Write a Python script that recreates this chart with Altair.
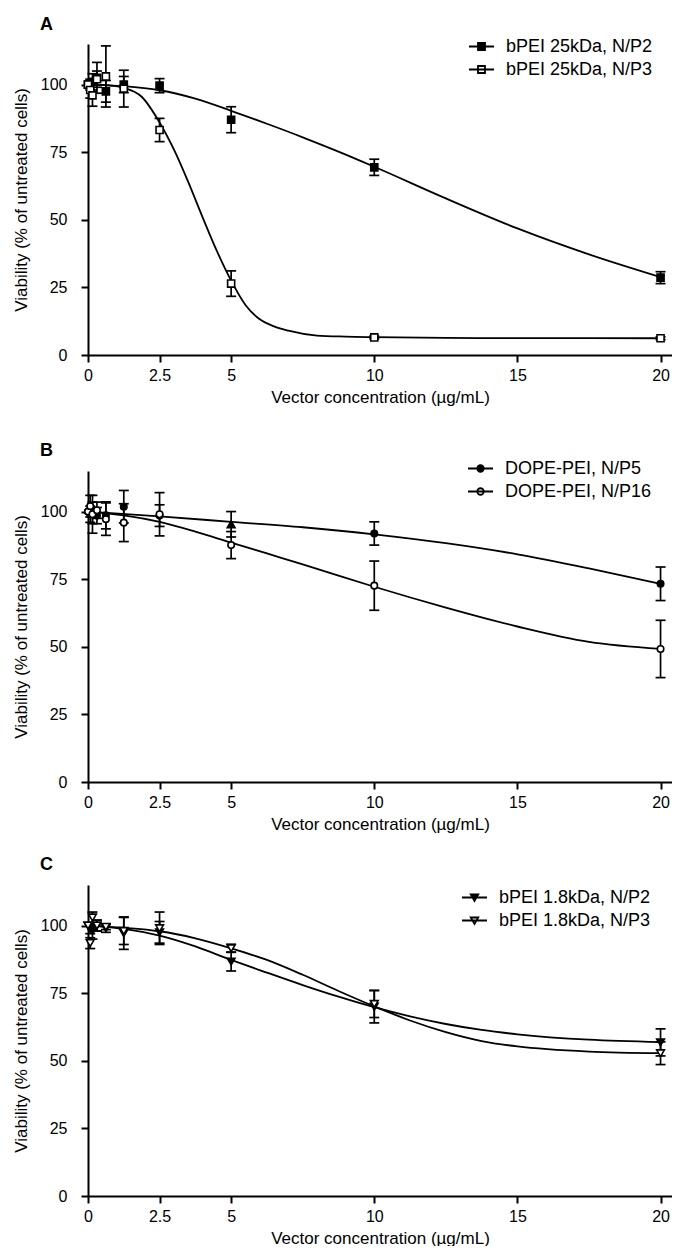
import altair as alt
import pandas as pd

FONT = "Liberation Sans"

# ---------------- data ----------------
conc = [0, 0.078, 0.156, 0.3125, 0.625, 1.25, 2.5, 5, 10, 20]

# Panel A: bPEI 25kDa
a_names = ["bPEI 25kDa, N/P2", "bPEI 25kDa, N/P3"]
a_np2 = [100, 100, 101, 102.5, 97.5, 100, 99.6, 87, 69.4, 28.6]
a_np2_err = [0, 2, 3, 5.7, 4, 3, 2.6, 4.8, 3, 2.2]
a_np3 = [100, 98, 96, 102, 103, 98.5, 83.2, 26.4, 6.5, 6.2]
a_np3_err = [0, 3, 4, 3, 11.3, 6.8, 4.3, 4.7, 0.5, 0.5]
a_fit_np2_x = [0, 1.25, 2.5, 3.75, 5, 6.25, 7.5, 8.75, 10, 12.5, 15, 17.5, 20]
a_fit_np2_y = [100, 99.4, 97.9, 94.8, 90.3, 85.5, 80.5, 75.2, 69.6, 57.9, 46.8, 37.2, 28.8]
a_fit_np3_x = [0, 0.625, 1.25, 1.875, 2.5, 3, 3.5, 4, 4.5, 5, 5.5, 6, 6.5, 7, 8, 9, 10, 12.5, 15, 20]
a_fit_np3_y = [100, 99.8, 98.8, 95.5, 86, 76, 64, 51, 38.5, 27.5, 18.5, 13.2, 10.6, 9, 7.2, 6.8, 6.6, 6.3, 6.25, 6.2]

# Panel B: DOPE-PEI
b_names = ["DOPE-PEI, N/P5", "DOPE-PEI, N/P16"]
b_np5 = [100, 99, 99.5, 98.5, 98.6, 101.8, 98.5, 95.3, 91.9, 73.3]
b_np5_err = [0, 3, 4, 3, 5, 6, 4, 4.7, 4.3, 6.2]
b_np5_shape = ["circle"] * 7 + ["triangle-up"] + ["circle"] * 2
b_np16 = [100, 102, 99, 100.5, 97.2, 95.9, 99, 87.6, 72.6, 49.2]
b_np16_err = [0, 4, 7, 3, 6, 7, 8, 5, 9.1, 10.6]
b_fit_np5_x = [0, 2.5, 5, 7.5, 10, 12.5, 15, 17.5, 20]
b_fit_np5_y = [100, 98.2, 96.2, 94.2, 91.6, 88.3, 84.2, 79, 73.3]
b_fit_np16_x = [0, 1.25, 2.5, 3.75, 5, 6.25, 7.5, 8.75, 10, 12.5, 15, 17.5, 20]
b_fit_np16_y = [100, 98.6, 96.2, 92.6, 88.5, 84.5, 80.5, 76.3, 72.2, 64.5, 57.5, 51.8, 49.2]

# Panel C: bPEI 1.8kDa
c_names = ["bPEI 1.8kDa, N/P2", "bPEI 1.8kDa, N/P3"]
c_np2 = [100, 99, 98, 100, 99, 97.2, 97.5, 86.7, 70, 56.8]
c_np2_err = [0, 2, 3, 2, 1.5, 6, 4, 3.5, 6, 5]
c_np3 = [100, 93.5, 103, 100, 99.5, 98, 99, 91.6, 71, 52.8]
c_np3_err = [0, 2, 2, 2, 1, 5, 6, 1.5, 5, 4.2]
c_fit_x = [0, 1.25, 2.5, 3.75, 5, 6.25, 7.5, 8.75, 10, 11.25, 12.5, 13.75, 15, 17.5, 20]
c_fit_np2_y = [100, 98.8, 96.3, 92.3, 87.3, 82.6, 78.0, 73.7, 69.8, 66.4, 63.6, 61.4, 59.8, 57.8, 56.9]
c_fit_np3_y = [100, 99.2, 97.9, 95.3, 91.6, 87.3, 81.8, 75.8, 70.1, 64.9, 60.6, 57.3, 55.3, 53.4, 52.8]

x_ticks = [0, 2.5, 5, 10, 15, 20]
y_ticks = [0, 25, 50, 75, 100]

# legend symbols: line segment with marker in the middle
LEG_PATH = {
    "square": "M-1,0H1M-0.28,-0.28H0.28V0.28H-0.28Z",
    "circle": "M-1,0H1M0.26,0A0.26,0.26,0,1,1,-0.26,0A0.26,0.26,0,1,1,0.26,0Z",
    "triangle-down": "M-1,0H1M-0.3,-0.24L0.3,-0.24L0,0.28Z",
}

X_TITLE = "Vector concentration (µg/mL)"
Y_TITLE = "Viability (% of untreated cells)"


def X():
    return alt.X("x:Q", scale=alt.Scale(domain=[0, 20.4], nice=False, zero=False),
                 axis=alt.Axis(values=x_ticks, format="~g", title=X_TITLE, labelFlush=False))


def Y(field="y"):
    return alt.Y(f"{field}:Q", scale=alt.Scale(domain=[0, 115], nice=False),
                 axis=alt.Axis(values=y_ticks, title=Y_TITLE))


def panel(label, names, series, fits, shape, sizes, legend_xy, title_offset):
    rows = []
    for name, (vals, errs, fill, shapes) in zip(names, series):
        for xv, yv, ev, sh in zip(conc, vals, errs, shapes):
            rows.append({"x": xv, "y": yv, "err": ev, "lo": yv - ev, "hi": yv + ev,
                         "series": name, "fill": fill, "shape": sh})
    pdf = pd.DataFrame(rows)
    crow = []
    for name, (fx, fy) in zip(names, fits):
        for xv, yv in zip(fx, fy):
            crow.append({"x": xv, "y": yv, "series": name})
    cdf = pd.DataFrame(crow)

    layers = []
    layers.append(alt.Chart(cdf).mark_line(color="black", strokeWidth=1.8, interpolate="monotone")
                  .encode(x=X(), y=Y(), detail="series:N"))
    eb = alt.Chart(pdf).transform_filter("datum.err > 0")
    layers.append(eb.mark_rule(color="black", strokeWidth=1.7)
                  .encode(x=X(), y=Y("lo"), y2="hi:Q"))
    for f in ["lo", "hi"]:
        layers.append(eb.mark_tick(color="black", thickness=1.7, size=10, orient="horizontal", opacity=1)
                      .encode(x=X(), y=Y(f)))
    for name, (vals, errs, fill, shapes) in zip(names, series):
        for sh in sorted(set(shapes)):
            layers.append(
                alt.Chart(pdf).transform_filter(alt.datum.series == name)
                .transform_filter(alt.datum.shape == sh)
                .mark_point(shape=sh, filled=True, fill=fill, stroke="black", strokeWidth=1.6,
                            size=sizes.get(sh, 50), opacity=1)
                .encode(x=X(), y=Y()))
    fills = [s[2] for s in series]
    leg = alt.Legend(title=None, orient="none", legendX=legend_xy[0], legendY=legend_xy[1],
                     labelFontSize=18, labelFont=FONT, labelColor="black", symbolSize=625,
                     symbolStrokeWidth=1.8, symbolStrokeColor="black", symbolOpacity=1,
                     rowPadding=0, labelOffset=11, padding=0, offset=0)
    layers.append(
        alt.Chart(pdf).transform_filter("datum.x < -100")
        .mark_point(filled=True, size=625, strokeWidth=1.8, opacity=1)
        .encode(x=X(), y=Y(),
                shape=alt.Shape("series:N", scale=alt.Scale(domain=names, range=[LEG_PATH[shape]] * 2), legend=leg),
                fill=alt.Fill("series:N", scale=alt.Scale(domain=names, range=fills), legend=leg),
                stroke=alt.Stroke("series:N", scale=alt.Scale(domain=names, range=["black", "black"]), legend=leg)))
    return alt.layer(*layers).properties(
        width=584, height=311,
        title=alt.TitleParams(text=label, anchor="start", frame="group", dx=-48, offset=title_offset,
                              fontSize=18, fontWeight="bold", font=FONT, color="black"))


pA = panel("A", a_names,
           [(a_np2, a_np2_err, "black", ["square"] * 10), (a_np3, a_np3_err, "white", ["square"] * 10)],
           [(a_fit_np2_x, a_fit_np2_y), (a_fit_np3_x, a_fit_np3_y)],
           "square", {"square": 50}, (380, -11), -1)
pB = panel("B", b_names,
           [(b_np5, b_np5_err, "black", b_np5_shape), (b_np16, b_np16_err, "white", ["circle"] * 10)],
           [(b_fit_np5_x, b_fit_np5_y), (b_fit_np16_x, b_fit_np16_y)],
           "circle", {"circle": 42, "triangle-up": 60}, (379, -16), -5)
pC = panel("C", c_names,
           [(c_np2, c_np2_err, "black", ["triangle-down"] * 10), (c_np3, c_np3_err, "white", ["triangle-down"] * 10)],
           [(c_fit_x, c_fit_np2_y), (c_fit_x, c_fit_np3_y)],
           "triangle-down", {"triangle-down": 60}, (373, -1), 10)

IND = dict(shape="independent", fill="independent", stroke="independent")

top = alt.vconcat(pA, pB, spacing=37).resolve_scale(**IND).resolve_legend(**IND)
chart = (
    alt.vconcat(top, pC, spacing=24)
    .resolve_scale(**IND).resolve_legend(**IND)
    .properties(padding={"left": 4, "top": 8, "right": 0, "bottom": 0})
    .configure_view(stroke=None)
    .configure_axis(domainColor="black", domainWidth=2, tickColor="black", tickWidth=2, tickSize=7,
                    labelFont=FONT, labelFontSize=16, labelColor="black",
                    titleFont=FONT, titleFontSize=17, titleFontWeight="normal", titleColor="black",
                    grid=False)
    .configure_axisX(labelPadding=5, titlePadding=6)
    .configure_axisY(labelPadding=14, titlePadding=10)
)

chart.save("out.html", embed_options={"renderer": "svg", "actions": False})
